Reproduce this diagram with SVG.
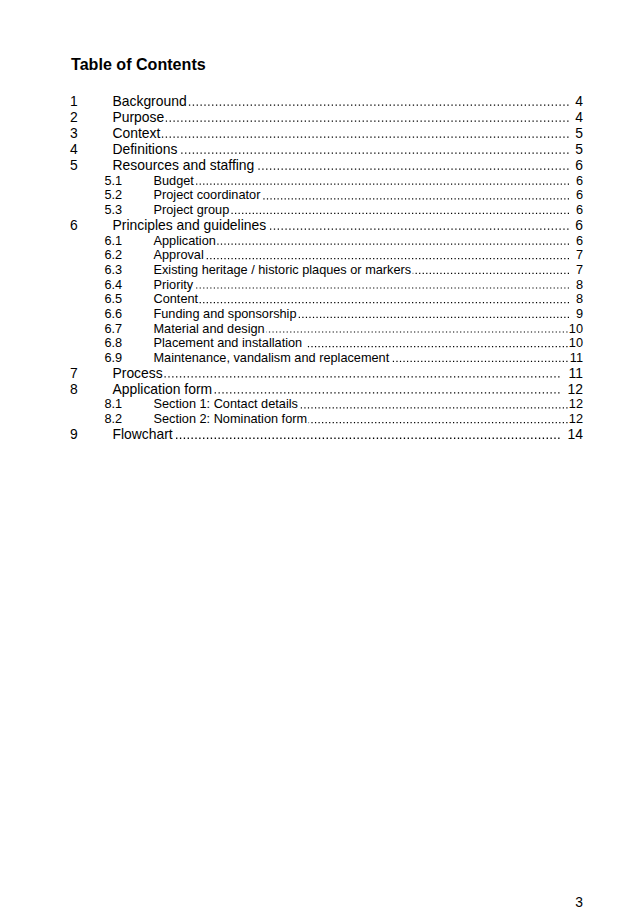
<svg xmlns="http://www.w3.org/2000/svg" width="637" height="924" viewBox="0 0 637 924">
<style>
text{font-family:"Liberation Sans",Arial,sans-serif;fill:#000}
.title{font-size:16.1px;font-weight:bold}
.l1{font-size:13.9px}
.l2{font-size:12.74px}
.pg{text-anchor:end}
.d1{stroke:#000;stroke-width:1.3;stroke-dasharray:1.3 2.56;fill:none}
.d2{stroke:#000;stroke-width:1.2;stroke-dasharray:1.2 2.34;fill:none}
</style>
<rect width="637" height="924" fill="#fff"/>
<g id="title"><text class="title" x="71" y="69.6">Table of Contents</text></g>
<g id="entries" transform="translate(0,0.8)">
<g id="e1"><text class="l1" x="70" y="105">1</text><text class="l1" x="112.5" y="105">Background</text><text class="l1 pg" x="583" y="105">4</text></g>
<g id="e2"><text class="l1" x="70" y="121">2</text><text class="l1" x="112.5" y="121">Purpose</text><text class="l1 pg" x="583" y="121">4</text></g>
<g id="e3"><text class="l1" x="70" y="137">3</text><text class="l1" x="112.5" y="137">Context</text><text class="l1 pg" x="583" y="137">5</text></g>
<g id="e4"><text class="l1" x="70" y="153">4</text><text class="l1" x="112.5" y="153">Definitions</text><text class="l1 pg" x="583" y="153">5</text></g>
<g id="e5"><text class="l1" x="70" y="169">5</text><text class="l1" x="112.5" y="169">Resources and staffing</text><text class="l1 pg" x="583" y="169">6</text></g>
<g id="e5-1"><text class="l2" x="104.5" y="183.9">5.1</text><text class="l2" x="153.5" y="183.9">Budget</text><text class="l2 pg" x="583" y="183.9">6</text></g>
<g id="e5-2"><text class="l2" x="104.5" y="198.6">5.2</text><text class="l2" x="153.5" y="198.6">Project coordinator</text><text class="l2 pg" x="583" y="198.6">6</text></g>
<g id="e5-3"><text class="l2" x="104.5" y="213.2">5.3</text><text class="l2" x="153.5" y="213.2">Project group</text><text class="l2 pg" x="583" y="213.2">6</text></g>
<g id="e6"><text class="l1" x="70" y="228.9">6</text><text class="l1" x="112.5" y="228.9">Principles and guidelines</text><text class="l1 pg" x="583" y="228.9">6</text></g>
<g id="e6-1"><text class="l2" x="104.5" y="243.9">6.1</text><text class="l2" x="153.5" y="243.9">Application</text><text class="l2 pg" x="583" y="243.9">6</text></g>
<g id="e6-2"><text class="l2" x="104.5" y="258.5">6.2</text><text class="l2" x="153.5" y="258.5">Approval</text><text class="l2 pg" x="583" y="258.5">7</text></g>
<g id="e6-3"><text class="l2" x="104.5" y="273.2">6.3</text><text class="l2" x="153.5" y="273.2">Existing heritage / historic plaques or markers</text><text class="l2 pg" x="583" y="273.2">7</text></g>
<g id="e6-4"><text class="l2" x="104.5" y="287.8">6.4</text><text class="l2" x="153.5" y="287.8">Priority</text><text class="l2 pg" x="583" y="287.8">8</text></g>
<g id="e6-5"><text class="l2" x="104.5" y="302.5">6.5</text><text class="l2" x="153.5" y="302.5">Content</text><text class="l2 pg" x="583" y="302.5">8</text></g>
<g id="e6-6"><text class="l2" x="104.5" y="317.1">6.6</text><text class="l2" x="153.5" y="317.1">Funding and sponsorship</text><text class="l2 pg" x="583" y="317.1">9</text></g>
<g id="e6-7"><text class="l2" x="104.5" y="331.8">6.7</text><text class="l2" x="153.5" y="331.8">Material and design</text><text class="l2 pg" x="583" y="331.8">10</text></g>
<g id="e6-8"><text class="l2" x="104.5" y="346.4">6.8</text><text class="l2" x="153.5" y="346.4">Placement and installation</text><text class="l2 pg" x="583" y="346.4">10</text></g>
<g id="e6-9"><text class="l2" x="104.5" y="361.1">6.9</text><text class="l2" x="153.5" y="361.1">Maintenance, vandalism and replacement</text><text class="l2 pg" x="583" y="361.1">11</text></g>
<g id="e7"><text class="l1" x="70" y="376.8">7</text><text class="l1" x="112.5" y="376.8">Process</text><text class="l1 pg" x="583" y="376.8">11</text></g>
<g id="e8"><text class="l1" x="70" y="392.8">8</text><text class="l1" x="112.5" y="392.8">Application form</text><text class="l1 pg" x="583" y="392.8">12</text></g>
<g id="e8-1"><text class="l2" x="104.5" y="407.7">8.1</text><text class="l2" x="153.5" y="407.7">Section 1: Contact details</text><text class="l2 pg" x="583" y="407.7">12</text></g>
<g id="e8-2"><text class="l2" x="104.5" y="422.4">8.2</text><text class="l2" x="153.5" y="422.4">Section 2: Nomination form</text><text class="l2 pg" x="583" y="422.4">12</text></g>
<g id="e9"><text class="l1" x="70" y="438.1">9</text><text class="l1" x="112.5" y="438.1">Flowchart</text><text class="l1 pg" x="583" y="438.1">14</text></g>
</g>
<g id="leaders" transform="translate(0,0.8)">
<line class="d1" x1="568.5" y1="104.35" x2="188.2" y2="104.35"/>
<line class="d1" x1="568.5" y1="120.35" x2="165.8" y2="120.35"/>
<line class="d1" x1="568.5" y1="136.35" x2="161.9" y2="136.35"/>
<line class="d1" x1="568.5" y1="152.35" x2="178.9" y2="152.35"/>
<line class="d1" x1="568.5" y1="168.35" x2="256.2" y2="168.35"/>
<line class="d2" x1="569" y1="183.3" x2="195.4" y2="183.3"/>
<line class="d2" x1="569" y1="198.0" x2="261.9" y2="198.0"/>
<line class="d2" x1="569" y1="212.6" x2="230.8" y2="212.6"/>
<line class="d1" x1="568.5" y1="228.25" x2="267.7" y2="228.25"/>
<line class="d2" x1="569" y1="243.3" x2="217.3" y2="243.3"/>
<line class="d2" x1="569" y1="257.9" x2="205.3" y2="257.9"/>
<line class="d2" x1="569" y1="272.6" x2="412.7" y2="272.6"/>
<line class="d2" x1="569" y1="287.2" x2="194.6" y2="287.2"/>
<line class="d2" x1="569" y1="301.9" x2="198.9" y2="301.9"/>
<line class="d2" x1="569" y1="316.5" x2="298" y2="316.5"/>
<line class="d2" x1="567.5" y1="331.2" x2="266.2" y2="331.2"/>
<line class="d2" x1="567.5" y1="345.8" x2="306.2" y2="345.8"/>
<line class="d2" x1="567.5" y1="360.5" x2="390.8" y2="360.5"/>
<line class="d1" x1="559.5" y1="376.15" x2="164.2" y2="376.15"/>
<line class="d1" x1="559.5" y1="392.15" x2="213.6" y2="392.15"/>
<line class="d2" x1="567.5" y1="407.1" x2="299.5" y2="407.1"/>
<line class="d2" x1="567.5" y1="421.8" x2="308.6" y2="421.8"/>
<line class="d1" x1="559.5" y1="437.45" x2="174.2" y2="437.45"/>
</g>
<g id="footer"><text class="l1 pg" x="583" y="906.5">3</text></g>
</svg>
